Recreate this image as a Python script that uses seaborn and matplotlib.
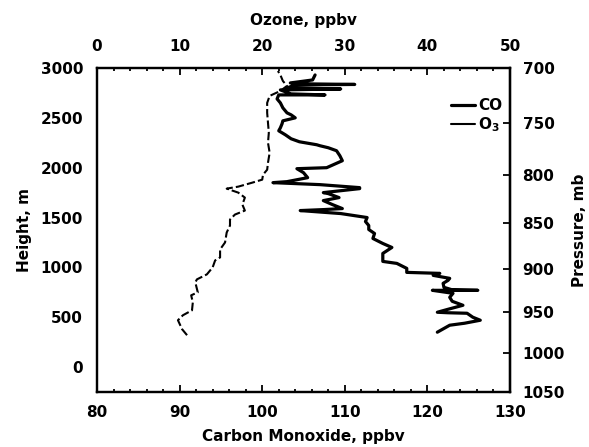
import matplotlib
matplotlib.use("Agg")
import matplotlib.pyplot as plt
import numpy as np
import seaborn as sns
from matplotlib.lines import Line2D
from matplotlib.ticker import MultipleLocator

co_height = [350, 420, 440, 470, 500, 540, 545, 550, 580, 620, 660, 700, 740, 770, 770,
             775, 800, 840, 870, 890, 920, 940, 950, 990, 1040, 1060, 1140, 1200, 1240,
             1290, 1340, 1380, 1420, 1460, 1500, 1540, 1570, 1580, 1590, 1630, 1670, 1700,
             1740, 1750, 1790, 1800, 1830, 1850, 1860, 1900, 1950, 1990, 2000, 2070, 2120,
             2170, 2200, 2220, 2230, 2260, 2290, 2330, 2370, 2400, 2440, 2470, 2500, 2530,
             2550, 2600, 2650, 2690, 2730, 2730, 2740, 2780, 2790, 2800, 2830, 2835, 2840,
             2850, 2880, 2930]
co_ppbv = [121.2, 122.7, 124.5, 126.4, 125.5, 124.8, 122.5, 121.2, 122.5, 124.3, 123.0,
           122.7, 123.1, 120.6, 126.1, 123.0, 122.0, 121.9, 122.5, 122.7, 120.7, 121.5,
           117.5, 117.5, 116.3, 114.6, 114.6, 115.7, 114.6, 113.4, 113.6, 112.9, 112.9,
           112.5, 112.7, 109.5, 104.6, 107.5, 109.7, 108.5, 107.4, 109.3, 108.0, 107.4,
           111.8, 111.8, 107.0, 101.3, 103.0, 105.5, 105.0, 104.2, 107.8, 109.7, 109.4,
           109.0, 108.0, 107.0, 106.6, 104.5, 103.5, 102.8, 102.0, 102.2, 102.4, 102.5,
           104.0, 103.5, 103.0, 102.5, 102.2, 101.8, 102.0, 107.6, 103.5, 102.2, 109.5,
           103.0, 104.0, 111.2, 106.0, 103.4, 106.1, 106.4]

# Ozone profile (top axis)
o3_height = [320, 380, 470, 520, 570, 650, 720, 750, 850, 880, 930, 1000, 1070, 1100,
             1180, 1250, 1350, 1420, 1480, 1530, 1570, 1630, 1700, 1750, 1790, 1810, 1850,
             1880, 1930, 1980, 2050, 2150, 2250, 2350, 2450, 2550, 2650, 2720, 2770, 2820,
             2870, 2930, 2970]
o3_ppbv = [10.9, 10.3, 9.8, 10.4, 11.5, 11.6, 11.4, 12.2, 11.9, 12.1, 13.3, 14.0, 14.3,
           14.9, 14.9, 15.5, 15.7, 16.1, 16.1, 16.7, 17.9, 17.6, 17.9, 17.1, 15.7, 17.1,
           18.8, 20.0, 20.1, 20.6, 20.7, 20.9, 20.7, 20.8, 20.7, 20.6, 20.6, 20.9, 22.2,
           23.0, 22.5, 22.2, 21.9]

pressure_ticks = [700, 750, 800, 850, 900, 950, 1000, 1050]

# pressure <-> height (700 mb at 3000 m, 1050 mb at -250 m)
P_TOP, H_TOP = 700.0, 3000.0
SCALE_H = 3250.0 / np.log(1.5)


def h2p(h):
    return P_TOP * np.exp((H_TOP - np.asarray(h, dtype=float)) / SCALE_H)


def p2h(p):
    p = np.clip(np.asarray(p, dtype=float), 1e-6, None)
    return H_TOP - SCALE_H * np.log(p / P_TOP)


sns.set_style("white")
plt.rcParams["font.family"] = ["DejaVu Sans"]
plt.rcParams["font.weight"] = "bold"
plt.rcParams["axes.labelweight"] = "bold"
for key in ("text.color", "axes.labelcolor", "xtick.color", "ytick.color"):
    plt.rcParams[key] = "black"
FS = 11

fig = plt.figure(figsize=(5.89, 4.47), dpi=100)
ax = fig.add_axes([0.1647, 0.1230, 0.7012, 0.7249])

sns.lineplot(x=co_ppbv, y=co_height, sort=False, estimator=None, ax=ax,
             color="black", linewidth=2.3)
ax.set_xlim(80, 130)
ax.set_ylim(-250, 3000)
ax.set_xlabel("Carbon Monoxide, ppbv", fontsize=FS, labelpad=7)
ax.set_ylabel("Height, m", fontsize=FS, labelpad=6)
ax.xaxis.set_major_locator(MultipleLocator(10))
ax.xaxis.set_minor_locator(MultipleLocator(2))
ax.yaxis.set_major_locator(MultipleLocator(500))
ax.yaxis.set_minor_locator(MultipleLocator(100))
ax.tick_params(which="both", direction="in", labelsize=FS, width=1.3)
ax.tick_params(which="major", length=5)
ax.tick_params(which="minor", length=2.5)
ax.tick_params(axis="x", which="major", pad=9)
ax.tick_params(axis="y", which="major", pad=10)
ax.tick_params(axis="y", which="both", right=False)

ax_top = ax.twiny()
sns.lineplot(x=o3_ppbv, y=o3_height, sort=False, estimator=None, ax=ax_top,
             color="black", linewidth=1.5, linestyle=(0, (4, 1.5)))
ax_top.set_xlim(0, 50)
ax_top.set_xlabel("Ozone, ppbv", fontsize=FS, labelpad=10)
ax_top.xaxis.set_major_locator(MultipleLocator(10))
ax_top.xaxis.set_minor_locator(MultipleLocator(2))
ax_top.tick_params(which="both", direction="in", labelsize=FS, width=1.3)
ax_top.tick_params(which="major", length=5, pad=10)
ax_top.tick_params(which="minor", length=2.5)

ax_right = ax.secondary_yaxis("right", functions=(h2p, p2h))
ax_right.set_yticks(pressure_ticks)
ax_right.set_ylabel("Pressure, mb", fontsize=FS, labelpad=5)
ax_right.tick_params(direction="in", labelsize=FS, length=5, width=1.3, pad=9)

for a in (ax, ax_top):
    for s in a.spines.values():
        s.set_linewidth(1.6)
        s.set_color("black")
ax_right.spines["right"].set_linewidth(1.6)

handles = [Line2D([], [], color="black", linewidth=2.3),
           Line2D([], [], color="black", linewidth=1.5)]
ax_top.legend(handles, ["CO", "O$_\\mathbf{3}$"], loc="upper right",
              bbox_to_anchor=(1.0, 0.93), frameon=False, fontsize=FS,
              handlelength=1.6, handletextpad=0.2, labelspacing=0.15,
              borderaxespad=0.1)

fig.savefig("out.png", dpi=100)
